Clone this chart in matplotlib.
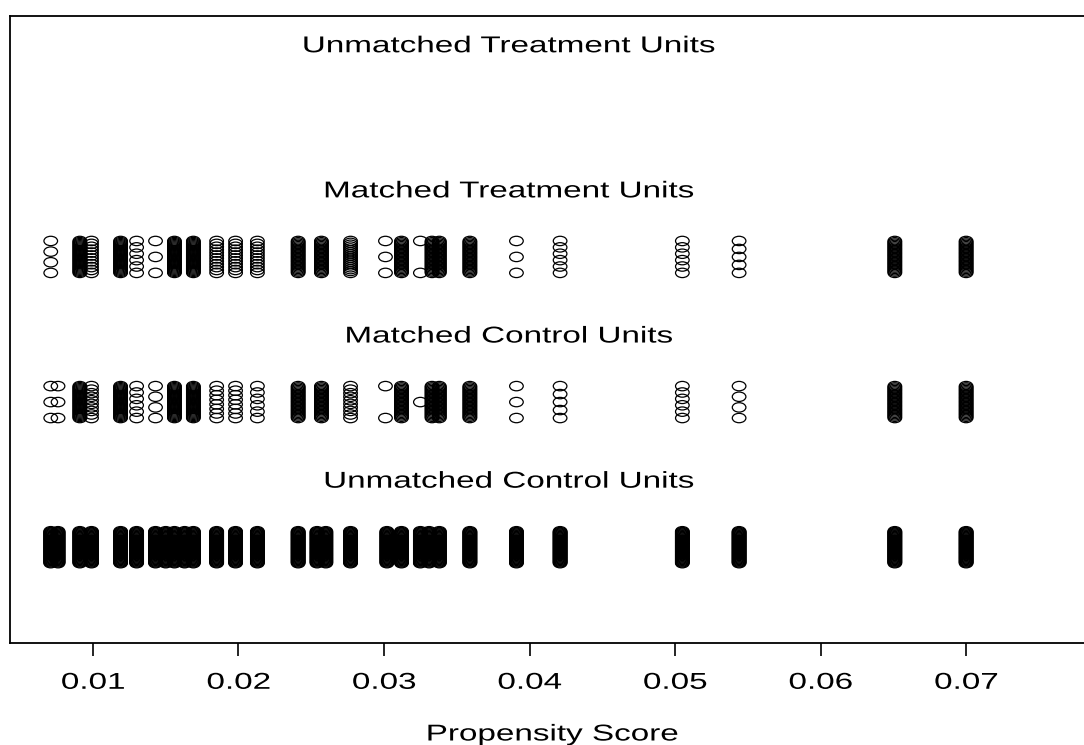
import matplotlib
matplotlib.use("Agg")
import matplotlib.pyplot as plt
import matplotlib.patheffects as pe
from matplotlib.path import Path
from matplotlib.transforms import Affine2D
import numpy as np

# propensity scores and number of units sharing each score
treat_ps = [0.0071, 0.0091, 0.0099, 0.0119, 0.0130, 0.0143, 0.0156, 0.0169, 0.0185,
            0.0198, 0.0213, 0.0241, 0.0257, 0.0277, 0.0301, 0.0312, 0.0325, 0.0333,
            0.0338, 0.0359, 0.0391, 0.0421, 0.0505, 0.0544, 0.0651, 0.0700]
treat_n = [4, 30, 12, 30, 6, 3, 30, 30, 12, 12, 12, 25, 25, 18, 3, 25, 2, 25,
           25, 25, 3, 6, 6, 5, 25, 25]

ctrl_ps = [0.0071, 0.0076, 0.0091, 0.0099, 0.0119, 0.0130, 0.0143, 0.0156, 0.0169,
           0.0185, 0.0198, 0.0213, 0.0241, 0.0257, 0.0277, 0.0301, 0.0312, 0.0325,
           0.0333, 0.0338, 0.0359, 0.0391, 0.0421, 0.0505, 0.0544, 0.0651, 0.0700]
ctrl_n = [3, 3, 30, 10, 30, 6, 4, 30, 30, 8, 8, 6, 25, 25, 10, 2, 25, 1,
          25, 25, 25, 3, 5, 6, 4, 25, 25]

unm_ps = [0.0071, 0.0076, 0.0091, 0.0099, 0.0119, 0.0130, 0.0143, 0.0150, 0.0156,
          0.0163, 0.0169, 0.0185, 0.0198, 0.0213, 0.0241, 0.0254, 0.0260, 0.0277,
          0.0302, 0.0312, 0.0325, 0.0331, 0.0338, 0.0359, 0.0391, 0.0421, 0.0505,
          0.0544, 0.0651, 0.0700]
unm_n = [40, 40, 40, 40, 40, 40, 40, 40, 40, 40, 40, 40, 40, 40, 40, 40, 40, 40,
         40, 40, 40, 40, 40, 40, 40, 40, 40, 40, 40, 40]

row_labels = ["Unmatched Treatment Units", "Matched Treatment Units",
              "Matched Control Units", "Unmatched Control Units"]
xticks = [0.01, 0.02, 0.03, 0.04, 0.05, 0.06, 0.07]


class HStretch(pe.AbstractPathEffect):
    """draw text glyphs widened about their own centre"""
    def __init__(self, sx):
        super().__init__()
        self.sx = sx

    def draw_path(self, renderer, gc, tpath, affine, rgbFace=None):
        v = tpath.vertices
        cx = (v[:, 0].min() + v[:, 0].max()) / 2 if len(v) else 0
        tr = Affine2D().translate(-cx, 0).scale(self.sx, 1).translate(cx, 0) + affine
        renderer.draw_path(gc, tpath, tr, rgbFace)


SX = 1.45
FS = 16.5
stretch = [HStretch(SX)]
plt.rcParams["font.family"] = ["Liberation Sans", "DejaVu Sans"]

# open circle, squashed like the wide plot device
circ = Path.unit_circle()
oval = Path(circ.vertices * np.array([1.0, 1.0 / SX]), circ.codes)

W, H = 1084, 745
fig = plt.figure(figsize=(W / 100, H / 100), dpi=100)
ax = fig.add_axes([10 / W, (H - 643) / H, (W - 10) / W, (643 - 16) / H])

def jitter_row(ps, ns, y0):
    xs, ys = [], []
    for p, n in zip(ps, ns):
        offs = np.linspace(-0.11, 0.11, n) if n > 1 else np.array([0.0])
        xs.extend([p] * n)
        ys.extend(y0 + offs)
    ax.scatter(xs, ys, marker=oval, s=9.8 ** 2, facecolors="none",
               edgecolors="black", linewidths=0.9)

jitter_row(treat_ps, treat_n, 2.5)
jitter_row(ctrl_ps, ctrl_n, 1.5)
jitter_row(unm_ps, unm_n, 0.5)

# labels sit at the middle of the score range
mid = (min(unm_ps) + max(unm_ps)) / 2
for lab, yy in zip(row_labels, [4, 3, 2, 1]):
    ax.text(mid, yy - 0.045, lab, ha="center", va="center", fontsize=FS,
            path_effects=stretch)

ax.set_xlim(0.0043, 0.0781)
ax.set_ylim(-0.16, 4.16)
ax.set_yticks([])
ax.set_xticks(xticks)
ax.set_xticklabels(["%.2f" % t for t in xticks])
ax.tick_params(axis="x", direction="out", length=9, width=1.2, pad=11,
               labelsize=FS)
ax.spines["right"].set_visible(False)
for s in ["left", "top", "bottom"]:
    ax.spines[s].set_linewidth(1.3)

fig.text(552 / W, (H - 734) / H, "Propensity Score", ha="center", va="center",
         fontsize=FS, path_effects=stretch)

fig.canvas.draw()
for lbl in ax.get_xticklabels():
    lbl.set_path_effects(stretch)

fig.savefig("out.png", dpi=100)
